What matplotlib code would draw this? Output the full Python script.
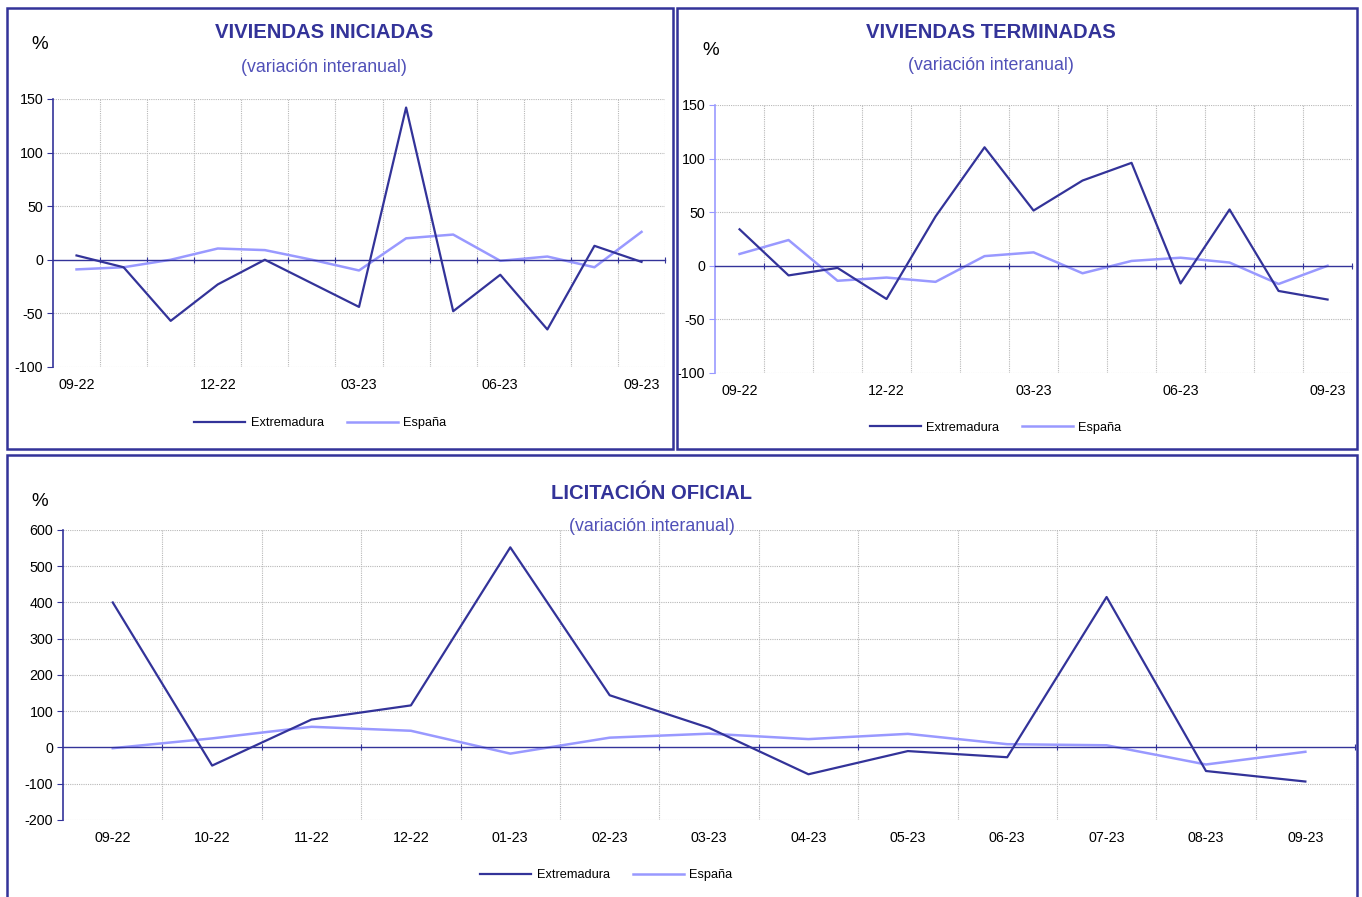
import numpy as np
import matplotlib
matplotlib.use("Agg")
import matplotlib.pyplot as plt
from matplotlib.patches import Rectangle
from matplotlib.ticker import FixedLocator

###############################################################################

months = ['09-22', '10-22', '11-22', '12-22', '01-23', '02-23', '03-23',
          '04-23', '05-23', '06-23', '07-23', '08-23', '09-23']

ini_extremadura = [4, -7, -57, -23, 0, -22, -44, 142, -48, -14, -65, 13, -2]
ini_espana = [-9, -7, 0, 10.5, 9, 0, -10, 20, 23.5, -1, 3, -7, 26]

ter_extremadura = [34, -9, -2, -31, 46, 110.5, 51.5, 79.5, 96, -16.5, 52.5, -23.5, -31.5]
ter_espana = [11, 24, -14, -11, -15, 9, 12.5, -7, 4.5, 7.5, 3, -17, 0]

lic_extremadura = [400, -50, 77, 116, 552, 144, 54, -74, -10, -27, 415, -65, -94]
lic_espana = [-2, 25, 57, 46, -17, 27, 38, 23, 37.5, 9, 6, -47, -12]

###############################################################################

DARK = '#333399'
LIGHT = '#9999ff'
SUB = '#5050b8'
GRID = '#b8b8b8'

plt.rcParams['font.family'] = ['Liberation Sans', 'DejaVu Sans']
plt.rcParams['axes.unicode_minus'] = False

fig = plt.figure(figsize=(13.62, 8.97), dpi=100)


def draw_panel(rect, extr, esp, ylim, ystep, label_every, spine_col):
    ax = fig.add_axes(rect)
    x = np.arange(len(months))
    ax.set_xlim(-0.5, len(months) - 0.5)
    ax.set_ylim(*ylim)

    # grid: horizontal at y ticks, vertical at category boundaries
    yticks = np.arange(ylim[0], ylim[1] + 1, ystep)
    ax.set_yticks(yticks)
    for y in yticks:
        if y != 0:
            ax.axhline(y, color=GRID, lw=0.8, ls=(0, (1, 1)), zorder=0)
    bounds = np.arange(0.5, len(months), 1.0)
    for b in bounds:
        ax.axvline(b, color=GRID, lw=0.8, ls=(0, (1, 1)), zorder=0)

    ax.plot(x, extr, color=DARK, lw=1.6, label='Extremadura', zorder=3)
    ax.plot(x, esp, color=LIGHT, lw=1.8, label='España', zorder=2)

    # zero line with category-boundary ticks
    for s in ['top', 'right']:
        ax.spines[s].set_visible(False)
    ax.spines['bottom'].set_position(('data', 0))
    ax.spines['bottom'].set_color(DARK)
    ax.spines['bottom'].set_linewidth(1.0)
    ax.spines['left'].set_color(spine_col)
    ax.spines['left'].set_linewidth(1.2)
    ax.xaxis.set_major_locator(FixedLocator(bounds))
    ax.tick_params(axis='x', which='major', direction='inout', length=5,
                   color=DARK, labelbottom=False)
    ax.tick_params(axis='y', direction='out', length=4, color=spine_col,
                   labelsize=10.3, pad=3)

    sec = ax.secondary_xaxis(0.0)
    idx = list(range(0, len(months), label_every))
    sec.set_xticks(idx)
    sec.set_xticklabels([months[i] for i in idx])
    sec.tick_params(length=0, labelsize=10.3, pad=8)
    sec.spines['bottom'].set_visible(False)
    return ax


def frame(x0, y0, w, h):
    fig.add_artist(Rectangle((x0, y0), w, h, transform=fig.transFigure,
                             fill=False, edgecolor=DARK, lw=1.8))


def heads(cx, ty, sy, px, py, title):
    fig.text(cx, ty, title, color=DARK, fontsize=14.6, fontweight='bold',
             ha='center', va='center')
    fig.text(cx, sy, '(variación interanual)', color=SUB, fontsize=12.8,
             ha='center', va='center')
    fig.text(px, py, '%', color='black', fontsize=13.5, ha='center', va='center')


def legend(ax, cy, cx):
    h, l = ax.get_legend_handles_labels()
    fig.legend(h, l, loc='center', bbox_to_anchor=(cx, cy), ncol=2,
               frameon=False, fontsize=9.2, handlelength=4.0,
               columnspacing=1.8, handletextpad=0.4)


# frames
frame(0.0051, 0.4994, 0.4890, 0.4916)
frame(0.4970, 0.4994, 0.4995, 0.4916)
frame(0.0051, -0.01, 0.9914, 0.5027)

ax1 = draw_panel([0.0389, 0.5909, 0.4494, 0.2988], ini_extremadura, ini_espana,
                 (-100, 150), 50, 3, DARK)
heads(0.238, 0.9643, 0.925, 0.0294, 0.950, 'VIVIENDAS INICIADAS')
legend(ax1, 0.528, 0.235)

ax2 = draw_panel([0.525, 0.5842, 0.4677, 0.2988], ter_extremadura, ter_espana,
                 (-100, 150), 50, 3, LIGHT)
heads(0.7276, 0.9643, 0.9275, 0.522, 0.944, 'VIVIENDAS TERMINADAS')
legend(ax2, 0.523, 0.731)

ax3 = draw_panel([0.0463, 0.0859, 0.9486, 0.3233], lic_extremadura, lic_espana,
                 (-200, 600), 100, 1, DARK)
heads(0.4787, 0.4493, 0.4125, 0.0294, 0.4404, 'LICITACIÓN OFICIAL')
legend(ax3, 0.0245, 0.445)

plt.savefig('out.png', dpi=100)
